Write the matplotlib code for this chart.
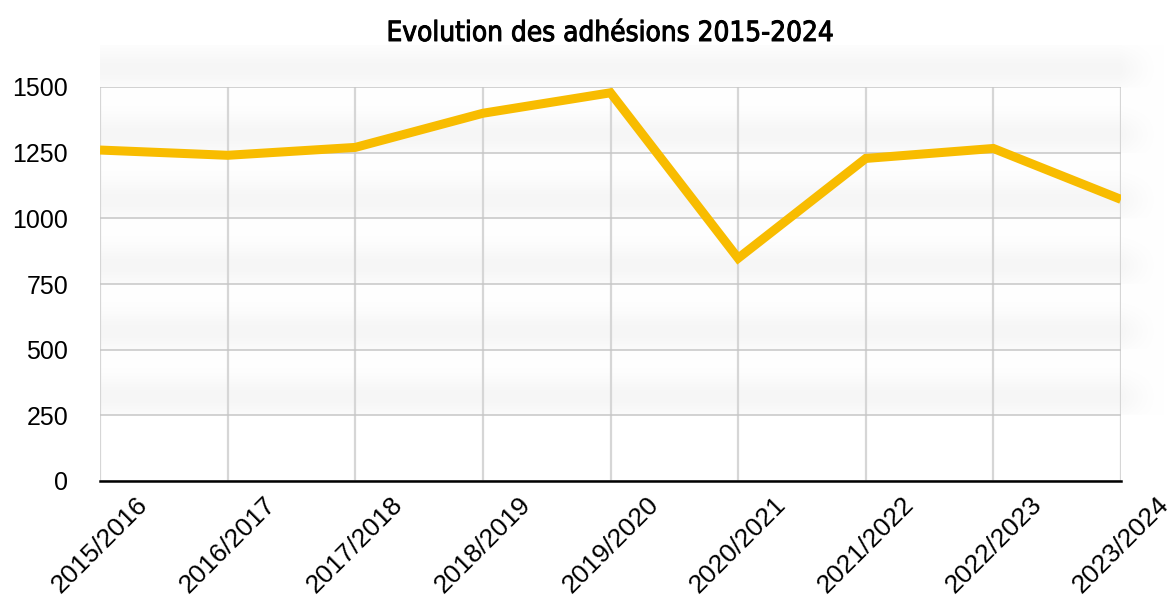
import matplotlib.pyplot as plt
import matplotlib.patheffects as pe
import numpy as np

saisons = ['2015/2016', '2016/2017', '2017/2018', '2018/2019', '2019/2020',
           '2020/2021', '2021/2022', '2022/2023', '2023/2024']
adhesions = [1260, 1240, 1270, 1400, 1478, 848, 1228, 1266, 1072]
yticks = [0, 250, 500, 750, 1000, 1250, 1500]

fig = plt.figure(figsize=(11.74, 6.03), dpi=100)

# fond ombré (bandes)
bg = fig.add_axes([100 / 1174, 1 - 481 / 603, 1165 / 1174 - 100 / 1174, (481 - 45) / 603], zorder=0)
xmax_bg = 8 + 44 / (1021 / 8)
ymax_bg = (481 - 45) / (394 / 1500)
vv = np.linspace(0, ymax_bg, 500)
xx = np.linspace(0, xmax_bg, 500)
d = (vv % 250) / 250
dark = 0.035 * np.exp(-((d - 0.28) / 0.3) ** 2)
dark[vv < 250] = 0
fade = np.clip(1 - (xx - 8) / (xmax_bg - 8), 0, 1) ** 1.5
img = 1 - dark[:, None] * fade[None, :]
bg.imshow(np.dstack([img, img, img]), origin='lower', aspect='auto',
          extent=[0, xmax_bg, 0, ymax_bg], interpolation='bilinear')
bg.axis('off')

ax = fig.add_axes([100 / 1174, 1 - 481 / 603, 1021 / 1174, 394 / 603], zorder=1)
ax.patch.set_alpha(0)
x = np.arange(len(saisons))
ax.plot(x, adhesions, color='#F8BC00', linewidth=6.5, solid_joinstyle='miter',
        solid_capstyle='butt', zorder=3)

ax.set_xlim(0, len(saisons) - 1)
ax.set_ylim(0, 1500)
ax.set_yticks(yticks)
ax.set_xticks(x)
ax.set_xticklabels(saisons, rotation=45, ha='center')
ax.yaxis.grid(True, color='#c6c6c6', linewidth=1.1)
ax.xaxis.grid(True, color='#d6d6d6', linewidth=1.6)
ax.tick_params(length=0, labelsize=18)
ax.tick_params(axis='y', pad=23)
ax.tick_params(axis='x', labelsize=19, pad=8)
for lab in ax.get_xticklabels() + ax.get_yticklabels():
    lab.set_fontfamily('Liberation Sans')
for s in ['top', 'right', 'left']:
    ax.spines[s].set_visible(False)
ax.spines['bottom'].set_color('black')
ax.spines['bottom'].set_linewidth(1.8)
ax.spines['bottom'].set_zorder(4)

fig.text(610 / 1174, 1 - 33 / 603, 'Evolution des adhésions 2015-2024',
         ha='center', va='center', fontsize=20, family='DejaVu Sans',
         fontstretch='condensed',
         path_effects=[pe.withStroke(linewidth=0.7, foreground='black')])

plt.savefig('out.png', dpi=100)
